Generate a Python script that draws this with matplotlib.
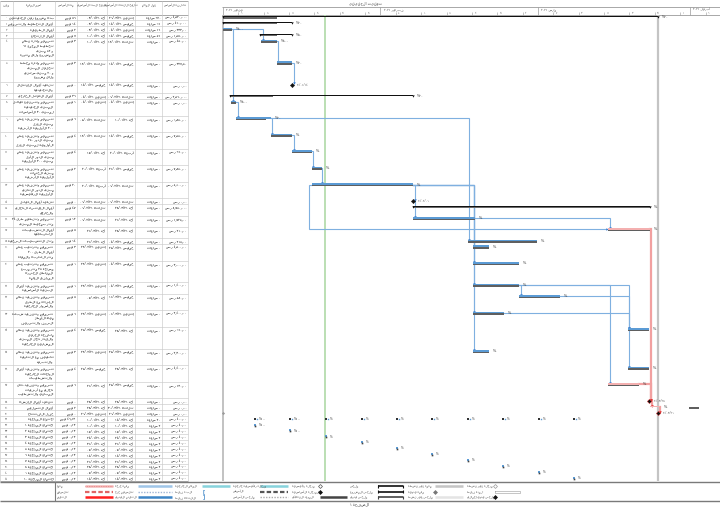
import numpy as np
import matplotlib
matplotlib.use("Agg")
import matplotlib.pyplot as plt
from matplotlib.transforms import blended_transform_factory

plt.rcParams['font.family'] = ['DejaVu Sans']

AR = str.maketrans('0123456789', '٠١٢٣٤٥٦٧٨٩')


def rtl(s):
    # matplotlib draws left to right, so flip word order and the letters of arabic words
    out = []
    for line in s.split('\n'):
        words = [w[::-1] if any('\u0621' <= c <= '\u064a' for c in w) else w for w in line.split(' ')]
        out.append(' '.join(words[::-1]))
    return '\n'.join(out)


# ---------------- data ----------------
task_ids = list(range(0, 42))
task_names = [
    "بداء مشروع زين الحديثين", "أعمال التخطيط والتصميم", "أعمال الطريقة", "أعمال الإرتجاع",
    "تصميم وإدارة نظام\nتخطيط المجمع ٦١\nو ٥٢ مبنى\nالمشروع ولاق متوره",
    "تصميم وإدارة مخطط\nتحليل المبنى\nو ٢٠ مبنى سكني\nولاق مشروع",
    "تنهيد أعمال الإنتقال\nوالتجديدية", "أعمال الهيكل الخارجي",
    "تصميم وتصنيع هياكل\nالمبنى الحديدية\nلمبنى ٣٠ الأساسات",
    "تصميم وتنفيذ عظم\nمبنى العزل\n٢٠٠ الأولوية الأرضية",
    "تصميم وتنفيذ عظم\nمبنى الدور ٢٥٠\nالأولوية لمبنى العزل",
    "تصميم وتنفيذ عظم\nمبنى الدور الأول\nمبنى ٣٠٠ الأولوية",
    "تصميم وتنفيذ عظم\nمبنى الخدمات\nالأولوية الأرضية",
    "تصميم وتنفيذ عظم\nمبنى الدور الثاني\nالأولوية الرئيسية",
    "تنهيد أعمال الهيكل", "أعمال الإقتصاد الداخلي\nوالخارجي",
    "تصميم وتنظيم طرق ٢٤\nمتر بمحيط المبنى", "أعمال التشبيبات\nالكهربائية",
    "مثل التشبيبات الصحية",
    "تصميم وترتيب عظم\nأعمال الطرق ٢٠٠\nمتر الكهرباء والمياه",
    "تصميم وترتيب عظم\nمساحة ٢٥ متر مربع\nالمناطق الخضراء\nالمرافق العامة",
    "تصميم وتنفيذ أعمال\nالبنية الأساسية",
    "تصميم وتنفيذ نظام\nالإضاءة مع الطرق\nوالأسوار الخارجية",
    "تصميم وتنفيذ شبكة\nمياه الأمطار\nالصرف والتصريف",
    "تصميم وتنفيذ نظام\nمكافحة الحريق\nوالإنذار داخل المبنى\nالمشاريع الخارجية",
    "تصميم وتنفيذ نظام\nتكييف مع التهوية\nوالتبريد",
    "تصميم وتنفيذ أعمال\nالواجهات الخارجية\nوالتشطيبات",
    "تصميم وتنفيذ دهان\nداخلي مع أرضيات\nالمباني والتشطيب",
    "تنهيد أعمال الإنشاء", "أعمال التسليم", "حفل الافتتاح", "اجتماع المراجعة",
    "اجتماع المراجعة ١", "اجتماع المراجعة ٢", "اجتماع المراجعة ٣", "اجتماع المراجعة ٤",
    "اجتماع المراجعة ٥", "اجتماع المراجعة ٦", "اجتماع المراجعة ٧", "اجتماع المراجعة ٨",
    "اجتماع المراجعة ٩", "اجتماع المراجعة ١٠",
]
durations = ["٨٦ يوم", "١٤ يوم", "٢ يوم", "٧ يوم", "٣ يوم", "٣ يوم", "٠ يوم", "٣٦ يوم", "١ يوم",
             "٦ يوم", "٤ يوم", "٤ يوم", "٢ يوم", "٢٠ يوم", "٠ يوم", "٤٧ يوم", "١٢ يوم", "٨ يوم",
             "١٤ يوم", "٣ يوم", "٩ يوم", "٩ يوم", "٨ يوم", "٦ يوم", "٤ يوم", "٣ يوم", "٤ يوم",
             "٦ يوم", "٠ يوم", "٢ يوم", "٠ يوم", "٤٦٫١٣ يوم"] + ["٠٫١٣ يوم"] * 10
base_start_txt = ["أحد ٠٣/٠١/٢١", "أحد ٠٣/٠١/٢١", "أحد ٠٣/٠١/٢١", "أحد ١٠/٠١/٢١", "أحد ١٠/٠١/٢١",
                  "ثلاثاء ١٢/٠١/٢١", "خميس ١٤/٠١/٢١", "إثنين ٠٤/٠١/٢١", "إثنين ٠٤/٠١/٢١",
                  "ثلاثاء ٠٥/٠١/٢١", "ثلاثاء ١٢/٠١/٢١", "أحد ١٧/٠١/٢١", "أربعاء ٢٠/٠١/٢١",
                  "أربعاء ٢٠/٠١/٢١", "ثلاثاء ٠٩/٠٢/٢١", "ثلاثاء ٠٩/٠٢/٢١", "ثلاثاء ٠٩/٠٢/٢١",
                  "أحد ٢١/٠٣/٢١", "أحد ٢١/٠٢/٢١", "إثنين ٢٢/٠٢/٢١", "إثنين ٢٢/٠٢/٢١",
                  "إثنين ٢٢/٠٢/٢١", "أحد ٠٧/٠٣/٢١", "إثنين ٢٢/٠٢/٢١", "خميس ٢٥/٠٣/٢١",
                  "إثنين ٢٢/٠٢/٢١", "خميس ٢٥/٠٣/٢١", "أحد ٢١/٠٣/٢١", "أحد ٢٨/٠٣/٢١",
                  "أحد ٢٨/٠٣/٢١", "إثنين ٢٩/٠٣/٢١", "أحد ١٠/٠١/٢١", "أحد ١٠/٠١/٢١",
                  "أحد ١٧/٠١/٢١", "أحد ٢٤/٠١/٢١", "أحد ٣١/٠١/٢١", "أحد ٠٧/٠٢/٢١", "أحد ١٤/٠٢/٢١",
                  "أحد ٢١/٠٢/٢١", "أحد ٢٨/٠٢/٢١", "أحد ٠٧/٠٣/٢١", "أحد ١٤/٠٣/٢١"]
base_finish_txt = ["إثنين ٢٩/٠٣/٢١", "خميس ١٤/٠١/٢١", "إثنين ٠٤/٠١/٢١", "خميس ١٤/٠١/٢١",
                   "ثلاثاء ١٢/٠١/٢١", "خميس ١٤/٠١/٢١", "خميس ١٤/٠١/٢١", "ثلاثاء ٠٩/٠٢/٢١",
                   "إثنين ٠٤/٠١/٢١", "أحد ١٠/٠١/٢١", "خميس ١٤/٠١/٢١", "أربعاء ٢٠/٠١/٢١",
                   "خميس ٢١/٠١/٢١", "ثلاثاء ٠٩/٠٢/٢١", "ثلاثاء ٠٩/٠٢/٢١", "أحد ٢٨/٠٣/٢١",
                   "أحد ٢١/٠٢/٢١", "أحد ٢٨/٠٣/٢١", "خميس ٠٤/٠٣/٢١", "خميس ٢٥/٠٢/٢١",
                   "خميس ٠٤/٠٣/٢١", "خميس ٠٤/٠٣/٢١", "خميس ١١/٠٣/٢١", "إثنين ٠١/٠٣/٢١",
                   "أحد ٢٨/٠٣/٢١", "خميس ٢٥/٠٢/٢١", "أحد ٢٨/٠٣/٢١", "خميس ٢٥/٠٣/٢١",
                   "أحد ٢٨/٠٣/٢١", "ثلاثاء ٣٠/٠٣/٢١", "إثنين ٢٩/٠٣/٢١", "أحد ١٤/٠٣/٢١",
                   "أحد ١٠/٠١/٢١", "أحد ١٧/٠١/٢١", "أحد ٢٤/٠١/٢١", "أحد ٣١/٠١/٢١", "أحد ٠٧/٠٢/٢١",
                   "أحد ١٤/٠٢/٢١", "أحد ٢١/٠٢/٢١", "أحد ٢٨/٠٢/٢١", "أحد ٠٧/٠٣/٢١", "أحد ١٤/٠٣/٢١"]
work_txt = ["٦٢٠ ساعة", "٩٦ ساعة", "١٦ ساعات", "٥٦ ساعة", "٠ ساعات", "٠ ساعات", "٠ ساعات",
            "٠ ساعات", "٠ ساعات", "٠ ساعات", "٠ ساعات", "٠ ساعات", "٠ ساعات", "٠ ساعات",
            "٠ ساعات", "٠ ساعات", "٠ ساعات", "٠ ساعات", "٠ ساعات", "٠ ساعات", "٠ ساعات",
            "٠ ساعات", "٠ ساعات", "٠ ساعات", "٠ ساعات", "٠ ساعات", "٠ ساعات", "٠ ساعات",
            "٠ ساعات", "٠ ساعات", "٠ ساعات", "٢٠ ساعة"] + ["٢ ساعة"] * 10
cost_txt = ["٤٫٥٢٠٫٠٠٠ ر.س", "٤١٠٫٠٠٠ ر.س", "٣٣٣٫٠٠ ر.س", "١٫٥٨٠٫٠٠ ر.س", "٤٥٠٫٠٠ ر.س",
            "٣٢٧٫٥٠ ر.س", "٠٫٠٠ ر.س", "٢٫٥٦٠٫٠٠٠ ر.س", "٠٫٠٠ ر.س", "٩٫٨٥٠٫٠٠ ر.س",
            "٧٫٥٥٠٫٠٠ ر.س", "٦٦٠٫٠٠ ر.س", "٧٫٨٥٠٫٠٠ ر.س", "٥٫٩٠٠٫٠٠ ر.س", "٠٫٠٠ ر.س",
            "٨٫٧٥٠٫٠٠٠ ر.س", "١٫٧٢٥٫٠٠ ر.س", "٢١٠٫٠٠ ر.س", "٢١٥٫٠٠ ر.س", "٤٫٥٠٠٫٠٠ ر.س",
            "٣٫٠٠٠٫٠٠ ر.س", "١٫٤٠٠٫٠٠ ر.س", "٥٨٠٫٠٠ ر.س", "٢٫٤٠٠٫٠٠ ر.س", "٩٦٠٫٠٠ ر.س",
            "٢٫٣٠٠٫٠٠ ر.س", "٤٫٤٠٠٫٠٠ ر.س", "١٣٠٫٠٠ ر.س", "٠٫٠٠ ر.س", "٠٫٠٠ ر.س", "٠٫٠٠ ر.س",
            "٤٠٠٫٠٠ ر.س"] + ["٤٠٫٠٠ ر.س"] * 10
header_names = ["معرف", "اسم المهمة", "مدة الأساس", "تاريخ البدء الأساسي",
                "تاريخ الانتهاء الأساسي", "عمل المهام", "تكلفة الأساس"]

# S summary, T task, M milestone, R recurring summary, r recurring occurrence
kinds = list("SSTSTTMSTTTTTTMSTTTTTTTTTTTTMTMR") + ["r"] * 10
critical = [18, 28, 29, 30, 31]
starts = [0.0, 0.0, 0.0, 7.3, 7.5, 10.6, 13.6, 1.4, 1.6, 2.6, 9.4, 13.6, 17.5, 17.5, 37.4, 37.4,
          37.4, 75.8, 48.2, 49.2, 49.2, 49.2, 58.3, 49.2, 79.7, 49.2, 79.7, 75.8, 83.9, 84.1, 85.6]
finishes = [85.6, 13.6, 1.8, 13.6, 10.6, 13.6, 13.6, 37.4, 2.6, 9.4, 13.6, 17.5, 19.5, 37.4, 37.4,
            84.1, 49.6, 84.1, 61.8, 52.4, 58.3, 58.3, 66.3, 55.3, 83.9, 52.4, 83.9, 81.9, 83.9, 86.0, 85.6]
base_starts = [0.0, 0.0, 0.0, 7.3, 7.5, 10.6, 13.6, 1.4, 1.6, 2.6, 9.4, 13.6, 17.5, 17.5, 37.4, 37.4,
               37.4, 75.8, 48.2, 49.2, 49.2, 49.2, 58.3, 49.2, 79.7, 49.2, 79.7, 75.8, 83.9, 91.7, 0.0]
base_finishes = [10.6, 10.6, 1.8, 10.6, 10.6, 13.6, 13.6, 9.8, 2.6, 8.5, 13.6, 17.5, 19.5, 37.4, 37.4,
                 84.1, 49.6, 84.1, 61.8, 52.4, 58.3, 58.3, 66.3, 55.3, 83.9, 52.4, 83.9, 81.9, 83.9, 93.7, 0.0]
bar_labels = ["%٢٠", "%٢٠", "%١٠٠", "%٥٠", "%١٠٠", "%٢٠", "٢٠/٠١/١٤", "%٢٠", "%١٠٠", "%٢٠",
              "%٠", "%٠", "%٠", "%٠", "٢٠/٠٢/٠٩", "%٠", "%٠", "%٠", "%٠", "%٠", "%٠", "%٠",
              "%٠", "%٠", "%٠", "%٠", "%٠", "%٠", "٢٠/٠٣/٢٨", "%٠", "٢٠/٠٣/٢٩"]
recurring_days = [6.3, 13.2, 20.3, 27.4, 34.3, 41.1, 48.2, 55.1, 62.2, 69.1]
recurring_labels = ["%١٠٠", "%١٠٠", "%٠", "%٠", "%٠", "%٠", "%٠", "%٠", "%٠", "%٠"]
# (predecessor row, successor row, type) using 1-based row numbers
links = [(3, 5, "FS"), (3, 9, "FS"), (5, 6, "FS"), (6, 7, "FS"), (9, 10, "FS"), (10, 11, "FS"),
         (11, 12, "FS"), (12, 13, "FS"), (13, 14, "FS"), (10, 19, "FS"), (14, 15, "FS"),
         (15, 17, "FS"), (14, 20, "FS"), (14, 21, "FS"), (14, 22, "FS"), (14, 24, "FS"),
         (14, 26, "FS"), (17, 18, "FS"), (14, 18, "SS"), (22, 23, "FS"), (22, 28, "FS"),
         (22, 25, "FS"), (23, 27, "FS"), (24, 25, "FS"), (18, 29, "FS"), (28, 29, "FS"),
         (29, 30, "FS"), (30, 31, "FS")]
status_day = 20.1
finish_day = 85.6
month_starts = [0, 31, 62, 92]
month_labels = ["يناير ٢٠٢١", "فبراير ٢٠٢١", "مارس ٢٠٢١", "أبريل ٢٠٢١"]
tick_days = [3, 8, 13, 18, 23, 28, 34, 39, 44, 49, 54, 59, 65, 70, 75, 80, 85, 90, 95]
tick_labels = ["٦", "١١", "١٦", "٢١", "٢٦", "٣١", "٥", "١٠", "١٥", "٢٠", "٢٥", "٢", "٧", "١٢",
               "١٧", "٢٢", "٢٧", "١", "٦"]
legend_text = [
    ["مهمة", "مهمة حرجة", "المهام الخارجية", "مرحلة رئيسية خارجية", "مرحلة رئيسية", "ملخص",
     "مهمة غير نشطة", "مرحلة غير نشطة"],
    ["تقسيم", "تقسيم حرج", "البدء فقط", "الأساس", "المرحلة الأساسية", "ملخص المشروع",
     "مهمة يدوية", "المدة فقط"],
    ["التقدم", "التقدم اليدوي", "الانتهاء فقط", "ملخص الأساس", "الموعد النهائي", "ملخص يدوي",
     "ملخص غير نشط", "ملخص يدوي إجمالي"],
]
legend_kind = [
    [("hatch", "#f4b8b8"), ("bar", "#9fc5e8"), ("bar", "#86d3dc"), ("bar", "#86d3dc"),
     ("odiamond", "#555555"), ("summary", "#111111"), ("bar", "#c4c4c4"), ("odiamond", "#999999")],
    [("dash", "#e06666"), ("dot", "#9fb5d5"), ("bracketL", "#3d85c6"), ("dash", "#555555"),
     ("diamond", "#111111"), ("summary", "#111111"), ("diamond", "#777777"), ("box", "#999999")],
    [("line", "#ff2020"), ("line", "#3d85c6"), ("bracketR", "#3d85c6"), ("dot", "#aaaaaa"),
     ("line", "#444444"), ("summary", "#444444"), ("bar", "#e4e4e4"), ("diamond", "#111111")],
]

# ---------------- layout ----------------
W, H = 720, 508
HEAD = 14.5
GX0 = 222.0
PX_DAY = 5.08
col_edges = [0, 12.5, 55, 77, 107, 135, 162, 188]
FS_TXT = 2.3

fig = plt.figure(figsize=(W / 100, H / 100), dpi=100)
ax = fig.add_axes([0, 0, 1, 1])
ax.set_xlim(0, W)
ax.set_ylim(H, 0)
ax.axis('off')

heights = [0.6 + 5.32 * (n.count('\n') + 1) for n in task_names]
tops = HEAD + np.concatenate([[0], np.cumsum(heights)[:-1]])
bottom = HEAD + sum(heights)

gx = fig.add_axes([GX0 / W, 1 - bottom / H, (W - GX0) / W, (bottom - HEAD) / H])
gx.set_xlim(-0.2, -0.2 + (W - GX0) / PX_DAY)
gx.set_ylim(bottom, HEAD)
gx.axis('off')

# ---------------- table ----------------
grid = dict(color="#c9c9c9", lw=0.45)
ax.hlines([0.8, HEAD], 0, col_edges[-1], color="#9a9a9a", lw=0.6)
ax.hlines(tops[1:], 0, col_edges[-1], **grid)
ax.hlines([bottom], 0, col_edges[-1], color="#9a9a9a", lw=0.6)
ax.vlines(col_edges, 0.8, bottom, **grid)
for j, name in enumerate(header_names):
    ax.text((col_edges[j] + col_edges[j + 1]) / 2, 5.0, rtl(name), fontsize=1.9, ha='center',
            va='center', color="#333333")

for i in range(len(task_names)):
    y = tops[i] + 1.3
    ax.text(6.5, y, str(task_ids[i]).translate(AR), fontsize=2.2, ha='center', va='top', color="#555555")
    ax.text(col_edges[2] - 1.5, y, rtl(task_names[i]), fontsize=FS_TXT, ha='right', va='top',
            linespacing=1.15, color="#000000")
    ax.text(col_edges[3] - 1.5, y, rtl(durations[i]), fontsize=FS_TXT, ha='right', va='top', color="#000000")
    ax.text(col_edges[4] - 1.5, y, rtl(base_start_txt[i]), fontsize=FS_TXT, ha='right', va='top', color="#000000")
    ax.text(col_edges[5] - 1.5, y, rtl(base_finish_txt[i]), fontsize=FS_TXT, ha='right', va='top', color="#000000")
    ax.text(col_edges[6] - 1.5, y, rtl(work_txt[i]), fontsize=FS_TXT, ha='right', va='top', color="#000000")
    ax.text(col_edges[7] - 1.5, y, rtl(cost_txt[i]), fontsize=FS_TXT, ha='right', va='top', color="#000000")

# ---------------- timeline header ----------------
tr = blended_transform_factory(gx.transData, ax.transData)
ax.text(365, 3.6, rtl("توقيت الحقيقي"), fontsize=2.6, ha='center', va='center', color="#333333")
ax.hlines([7.0, HEAD], GX0, W, color="#9a9a9a", lw=0.6)
ax.vlines(month_starts, 7.0, HEAD, transform=tr, color="#9a9a9a", lw=0.5)
ax.vlines(tick_days, 11.8, HEAD, transform=tr, color="#9a9a9a", lw=0.4)
for d, lab in zip(month_starts, month_labels):
    ax.text(d + 0.6, 9.6, rtl(lab), transform=tr, fontsize=2.2, ha='left', va='center', color="#444444")
for d, lab in zip(tick_days, tick_labels):
    ax.text(d + 0.5, 12.8, lab, transform=tr, fontsize=1.8, ha='left', va='center', color="#666666")

# ---------------- gantt ----------------
gx.axvline(-0.1, color="#bdbdbd", lw=1.3)
gx.axvline(status_day, color="#b5dcae", lw=1.3)
gx.axvline(finish_day, color="#c4c4c4", lw=1.6)

BLUE = "#5b9bd5"
LINK = "#7fb0e0"
CRIT = "#f2a0a0"
crit_rows = [c - 1 for c in critical]

for p, s, typ in links:
    p, s = p - 1, s - 1
    col = CRIT if (p in crit_rows and s in crit_rows) else LINK
    lw = 1.6 if col == CRIT else 0.8
    py = tops[p] + 2.6
    if typ == "SS":
        xs = [starts[p], starts[p] - 0.5, starts[p] - 0.5, starts[s] - 0.2]
        ys = [py, py, tops[s] + 2.6, tops[s] + 2.6]
        mk = '>'
    else:
        xt = max(finishes[p], starts[s] + 0.3)
        xs = [finishes[p], xt, xt]
        ys = [py, py, tops[s] + 1.5]
        mk = 'v'
    gx.plot(xs, ys, color=col, lw=lw, solid_joinstyle='miter', zorder=2)
    gx.plot(xs[-1], ys[-1], marker=mk, ms=1.8, color="#3d7fd0" if col == LINK else "#e03030",
            mew=0, zorder=3)

for i in range(32):
    t = tops[i]
    k = kinds[i]
    is_crit = i in crit_rows
    if k == "S":
        gx.barh(t + 3.2, base_finishes[i] - base_starts[i], left=base_starts[i], height=1.7,
                color="#6a6a6a", zorder=3)
        gx.barh(t + 2.0, finishes[i] - starts[i], left=starts[i], height=1.2, color="#111111", zorder=4)
        gx.plot([starts[i], finishes[i]], [t + 2.8, t + 2.8], 'v', color="#111111", ms=1.7, mew=0, zorder=4)
        gx.text(finishes[i] + 0.8, t + 2.6, bar_labels[i], fontsize=2.4, va='center', color="#333333")
    elif k == "T":
        gx.barh(t + 3.7, base_finishes[i] - base_starts[i], left=base_starts[i], height=1.6,
                color="#5f5f5f", zorder=3)
        gx.barh(t + 2.2, finishes[i] - starts[i], left=starts[i], height=1.6,
                color="#f4b0b0" if is_crit else BLUE, zorder=4)
        gx.text(finishes[i] + 0.8, t + 2.6, bar_labels[i], fontsize=2.4, va='center', color="#333333")
    elif k == "M":
        if base_starts[i] != starts[i]:
            gx.plot(base_starts[i], t + 3, 'D', ms=1.6, color="#9a9a9a", mew=0, zorder=4)
        gx.plot(starts[i], t + 3, 'D', ms=2.2, color="#111111",
                mec="#e03030" if is_crit else "#111111", mew=0.3, zorder=5)
        gx.text(starts[i] + 1.0, t + 2.8, bar_labels[i], fontsize=2.2, va='center', color="#555555")
    elif k == "R":
        gx.plot(recurring_days, [t + 3] * len(recurring_days), 's', ms=1.8, color="#333333", mew=0, zorder=4)
        gx.plot(np.array(recurring_days) + 0.35, [t + 2.5] * len(recurring_days), 's', ms=1.0,
                color=BLUE, mew=0, zorder=5)
        for d, lab in zip(recurring_days, recurring_labels):
            gx.text(d + 0.8, t + 2.6, lab, fontsize=2.2, va='center', color="#444444")

for j in range(10):
    t = tops[32 + j]
    d = recurring_days[j]
    gx.plot(d, t + 2.5, 's', ms=1.6, color=BLUE, mew=0, zorder=4)
    gx.plot(d, t + 3.5, 's', ms=1.2, color="#444444", mew=0, zorder=4)
    gx.text(d + 0.8, t + 2.6, recurring_labels[j], fontsize=2.2, va='center', color="#444444")

# ---------------- legend ----------------
ax.hlines([482, 501], 0, W, color="#7a7a7a", lw=1.0)
ax.vlines([55], 482, 501, color="#7a7a7a", lw=0.8)
leg_cols = [(57, 85, 113), (115, 138, 172), (175, 202, 230), (233, 260, 288),
            (292, 320, 347), (350, 378, 403), (408, 435, 463), (467, 495, 520)]
leg_rows = [486.0, 491.5, 497.0]
for r, yy in enumerate(leg_rows):
    for c, (tx, x0, x1) in enumerate(leg_cols):
        ax.text(tx, yy, rtl(legend_text[r][c]), fontsize=2.1, ha='left', va='center', color="#444444")
        kind, col = legend_kind[r][c]
        if kind == "bar":
            ax.plot([x0, x1], [yy, yy], color=col, lw=1.8, solid_capstyle='butt')
        elif kind == "hatch":
            ax.plot([x0, x1], [yy, yy], color=col, lw=1.8, solid_capstyle='butt')
            ax.plot([x0, x1], [yy, yy], color="#e06666", lw=0.5, ls=(0, (1, 1.5)))
        elif kind == "dash":
            ax.plot([x0, x1], [yy, yy], color=col, lw=1.6, ls=(0, (2, 1)))
        elif kind == "dot":
            ax.plot([x0, x1], [yy, yy], color=col, lw=1.0, ls=(0, (1, 1)))
        elif kind == "line":
            ax.plot([x0, x1], [yy, yy], color=col, lw=1.8, solid_capstyle='butt')
        elif kind == "summary":
            ax.plot([x0, x1], [yy, yy], color=col, lw=1.2, solid_capstyle='butt')
            ax.vlines([x0 + 0.4, x1 - 0.4], yy - 1.2, yy + 1.5, color=col, lw=0.8)
        elif kind == "box":
            ax.plot([x0, x1, x1, x0, x0], [yy - 1, yy - 1, yy + 1, yy + 1, yy - 1], color=col, lw=0.4)
        elif kind in ("diamond", "odiamond"):
            ax.plot(x0, yy, 'D', ms=2.0, mfc=col if kind == "diamond" else "white", mec=col, mew=0.5)
        elif kind in ("bracketL", "bracketR"):
            ax.text(x0 + 2, yy, "[" if kind == "bracketL" else "]", fontsize=3.5, ha='center',
                    va='center', color=col, fontweight='bold')

ax.text(360, 504.5, rtl("الصفحة ١"), fontsize=2.6, ha='center', va='center', color="#333333")

fig.savefig("out.png", dpi=100, facecolor="white")
